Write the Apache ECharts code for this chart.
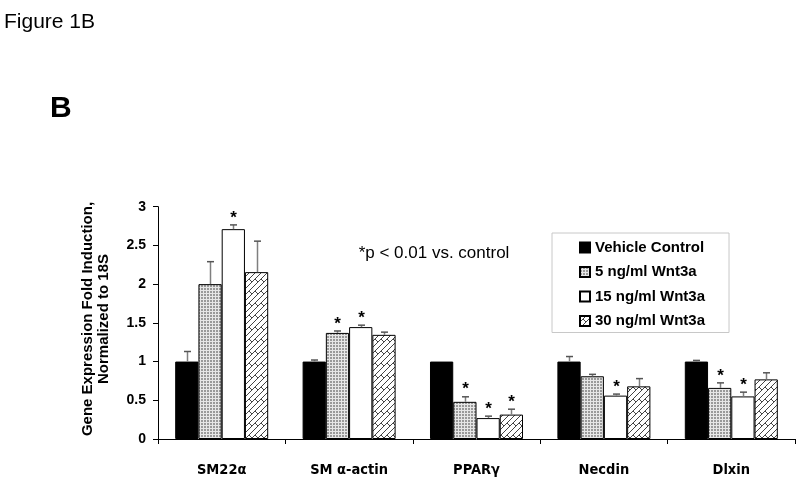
<!DOCTYPE html>
<html>
<head>
<meta charset="utf-8">
<script src="https://cdn.jsdelivr.net/npm/echarts@6/dist/echarts.min.js"></script>
<style>html,body{margin:0;padding:0;background:#fff;}#c{width:800px;height:478px;}</style>
</head>
<body>
<div id="c"></div>
<script>
const categories = ['SM22α', 'SM α-actin', 'PPARγ', 'Necdin', 'Dlxin'];
const seriesNames = ['Vehicle Control', '5 ng/ml Wnt3a', '15 ng/ml Wnt3a', '30 ng/ml Wnt3a'];
const vehicle = [1.0, 1.0, 1.0, 1.0, 1.0];
const vehicleErr = [0.13, 0.02, 0, 0.065, 0.015];
const wnt5 = [2.0, 1.37, 0.48, 0.81, 0.66];
const wnt5Err = [0.29, 0.025, 0.065, 0.025, 0.065];
const wnt15 = [2.71, 1.445, 0.27, 0.56, 0.55];
const wnt15Err = [0.055, 0.025, 0.025, 0.02, 0.055];
const wnt30 = [2.155, 1.345, 0.315, 0.68, 0.77];
const wnt30Err = [0.4, 0.035, 0.07, 0.1, 0.085];
const sigVehicle = [0, 0, 0, 0, 0];
const sig5 = [0, 1, 1, 0, 1];
const sig15 = [1, 1, 1, 1, 1];
const sig30 = [0, 0, 1, 0, 0];
const yTicks = [0, 0.5, 1, 1.5, 2, 2.5, 3];

const values = [vehicle, wnt5, wnt15, wnt30];
const errs = [vehicleErr, wnt5Err, wnt15Err, wnt30Err];
const sigs = [sigVehicle, sig5, sig15, sig30];

function dotPattern() {
  const c = document.createElement('canvas');
  c.width = 3; c.height = 3;
  const g = c.getContext('2d');
  g.fillStyle = '#e6e6e6'; g.fillRect(0, 0, 3, 3);
  g.fillStyle = '#999999'; g.fillRect(0, 0, 2, 2);
  return c;
}
function hatchPattern() {
  const s = 12;
  const c = document.createElement('canvas');
  c.width = s; c.height = s;
  const g = c.getContext('2d');
  g.fillStyle = '#ffffff'; g.fillRect(0, 0, s, s);
  g.strokeStyle = '#444444'; g.lineWidth = 1;
  const segs = [];
  for (const k of [0, 6, 12, 18, 24]) segs.push([k, 0, 0, k]);
  segs.push([3, 3, 6, 6]);
  segs.push([9, 3, 12, 6]);
  g.beginPath();
  for (const sg of segs) {
    for (const dx of [-s, 0, s]) for (const dy of [-s, 0, s]) {
      g.moveTo(sg[0] + dx, sg[1] + dy);
      g.lineTo(sg[2] + dx, sg[3] + dy);
    }
  }
  g.stroke();
  return c;
}

const fills = [
  '#000000',
  { image: dotPattern(), repeat: 'repeat' },
  '#ffffff',
  { image: hatchPattern(), repeat: 'repeat' }
];

const CAT_GAP = 0.27;
const barSeries = seriesNames.map((name, i) => ({
  name: name,
  type: 'bar',
  data: values[i],
  barGap: '0%',
  barCategoryGap: (CAT_GAP * 100) + '%',
  itemStyle: { color: fills[i], borderColor: '#000', borderWidth: 1 },
  emphasis: { disabled: true },
  z: 2
}));

const errSeries = seriesNames.map((name, i) => ({
  type: 'custom',
  name: name + ' err',
  z: 3,
  silent: true,
  data: values[i].map((v, j) => [j, v, errs[i][j], sigs[i][j]]),
  encode: { x: 0, y: 1 },
  renderItem: function (params, api) {
    const j = api.value(0), v = api.value(1), e = api.value(2), s = api.value(3);
    const band = api.size([1, 0])[0];
    const bw = band * (1 - CAT_GAP) / 4;
    const base = api.coord([j, v]);
    const x = Math.round(base[0] + (i - 1.5) * bw) + 0.5;
    const top = api.coord([j, v + e]);
    const children = [];
    if (e > 0) {
      children.push({ type: 'line', shape: { x1: x, y1: base[1], x2: x, y2: top[1] }, style: { stroke: '#7f7f7f', lineWidth: 1.5 } });
      children.push({ type: 'line', shape: { x1: x - 3.5, y1: top[1], x2: x + 3.5, y2: top[1] }, style: { stroke: '#555', lineWidth: 1.5 } });
    }
    if (s) {
      children.push({ type: 'text', x: x, y: top[1] - 7, style: { text: '*', font: 'bold 17px "Liberation Sans"', fill: '#000', textAlign: 'center', textVerticalAlign: 'middle' } });
    }
    return { type: 'group', children: children };
  }
}));

const chart = echarts.init(document.getElementById('c'), null, { renderer: 'canvas' });
chart.setOption({
  animation: false,
  backgroundColor: '#fff',
  grid: { left: 158, right: 5, top: 206.7, bottom: 39 },
  legend: {
    data: seriesNames,
    orient: 'vertical',
    left: 552,
    top: 233,
    padding: [7, 24, 4, 27],
    itemWidth: 10,
    itemHeight: 10,
    itemGap: 9.5,
    icon: 'rect',
    borderColor: '#c8c8c8',
    borderWidth: 1,
    selectedMode: false,
    textStyle: { fontFamily: 'Liberation Sans', fontWeight: 'bold', fontSize: 15, color: '#000' }
  },
  xAxis: {
    type: 'category',
    data: categories,
    axisLine: { lineStyle: { color: '#000', width: 1 } },
    axisTick: { show: true, interval: 0, length: 5, lineStyle: { color: '#000' } },
    axisLabel: { margin: 24, interval: 0, fontFamily: '"DejaVu Sans Condensed", "Liberation Sans"', fontWeight: 'bold', fontSize: 14.5, color: '#000' },
    splitLine: { show: false }
  },
  yAxis: {
    type: 'value',
    min: yTicks[0],
    max: yTicks[yTicks.length - 1],
    interval: 0.5,
    axisLine: { show: true, lineStyle: { color: '#000', width: 1 } },
    axisTick: { show: true, length: 5, lineStyle: { color: '#000' } },
    axisLabel: { margin: 12, fontFamily: 'Liberation Sans', fontWeight: 'bold', fontSize: 14, color: '#000' },
    splitLine: { show: false }
  },
  graphic: [
    { type: 'text', x: 4, y: 22, style: { text: 'Figure 1B', font: '21px "Liberation Sans"', fill: '#000', textAlign: 'left', textVerticalAlign: 'middle' } },
    { type: 'text', x: 50, y: 109, style: { text: 'B', font: 'bold 30px "Liberation Sans"', fill: '#000', textAlign: 'left', textVerticalAlign: 'middle' } },
    { type: 'text', x: 434, y: 253, style: { text: '*p < 0.01 vs. control', font: '17px "Liberation Sans"', fill: '#000', textAlign: 'center', textVerticalAlign: 'middle' } },
    { type: 'text', x: 96, y: 319, rotation: Math.PI / 2, style: { text: 'Gene Expression Fold Induction,\nNormalized to 18S', font: 'bold 15px "Liberation Sans"', lineHeight: 16, fill: '#000', textAlign: 'center', textVerticalAlign: 'middle' } }
  ],
  series: barSeries.concat(errSeries)
});
</script>
</body>
</html>
